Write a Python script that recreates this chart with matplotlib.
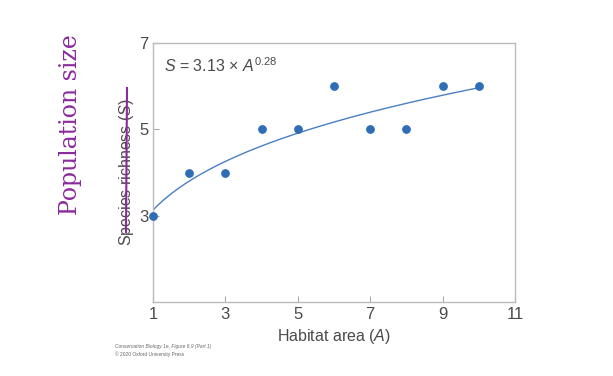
import numpy as np
import matplotlib.pyplot as plt

plt.rcParams["font.family"] = ["Liberation Sans", "DejaVu Sans"]
plt.rcParams["mathtext.fontset"] = "custom"
plt.rcParams["mathtext.rm"] = "Liberation Sans"
plt.rcParams["mathtext.it"] = "Liberation Sans:italic"

# habitat area vs species richness
area = [1, 2, 3, 4, 5, 6, 7, 8, 9, 10]
richness = [3, 4, 4, 5, 5, 6, 5, 5, 6, 6]
coef = 3.13
expo = 0.28
x_ticks = [1, 3, 5, 7, 9, 11]
y_ticks = [3, 5, 7]

blue = "#2f6db5"
grey = "#4a4a4a"
purple = "#8a2a9c"

fig = plt.figure(figsize=(6.13, 3.76), dpi=100)
ax = fig.add_axes([0.2496, 0.1968, 0.5905, 0.6888])

xf = np.linspace(1, 10, 200)
ax.plot(xf, coef * xf ** expo, color="#4a7fc4", lw=1)
ax.scatter(area, richness, s=28, color=blue, zorder=3, clip_on=False)

ax.set_xlim(1, 11)
ax.set_ylim(1, 7)
ax.set_xticks(x_ticks)
ax.set_yticks(y_ticks)
ax.tick_params(direction="in", length=4, color="#aaaaaa", labelcolor=grey, labelsize=12)
for s in ax.spines.values():
    s.set_color("#bbbbbb")
    s.set_linewidth(1)

ax.set_xlabel("Habitat area ($A$)", fontsize=11.5, color=grey, labelpad=4)
ax.set_ylabel("Species richness ($S$)", fontsize=11.5, color=grey, labelpad=2)
ax.text(0.03, 0.95, r"$S$ = 3.13 × $A^{\mathrm{0.28}}$", transform=ax.transAxes,
        fontsize=11.5, color=grey, va="top")

# credit line
fig.text(115 / 613, 1 - 348 / 376, "Conservation Biology 1e, Figure 6.9 (Part 1)",
         fontsize=3.5, color="#666666", style="italic")
fig.text(115 / 613, 1 - 356 / 376, "© 2020 Oxford University Press",
         fontsize=3.5, color="#666666")

# handwritten annotations
fig.text(70 / 613, 1 - 125 / 376, "Population size", rotation=90, fontsize=17,
         color=purple, ha="center", va="center", family="DejaVu Serif")
fig.add_artist(plt.Line2D([127 / 613, 126 / 613], [1 - 88 / 376, 1 - 232 / 376],
                          color=purple, lw=1.5))

fig.savefig("out.png", dpi=100)
